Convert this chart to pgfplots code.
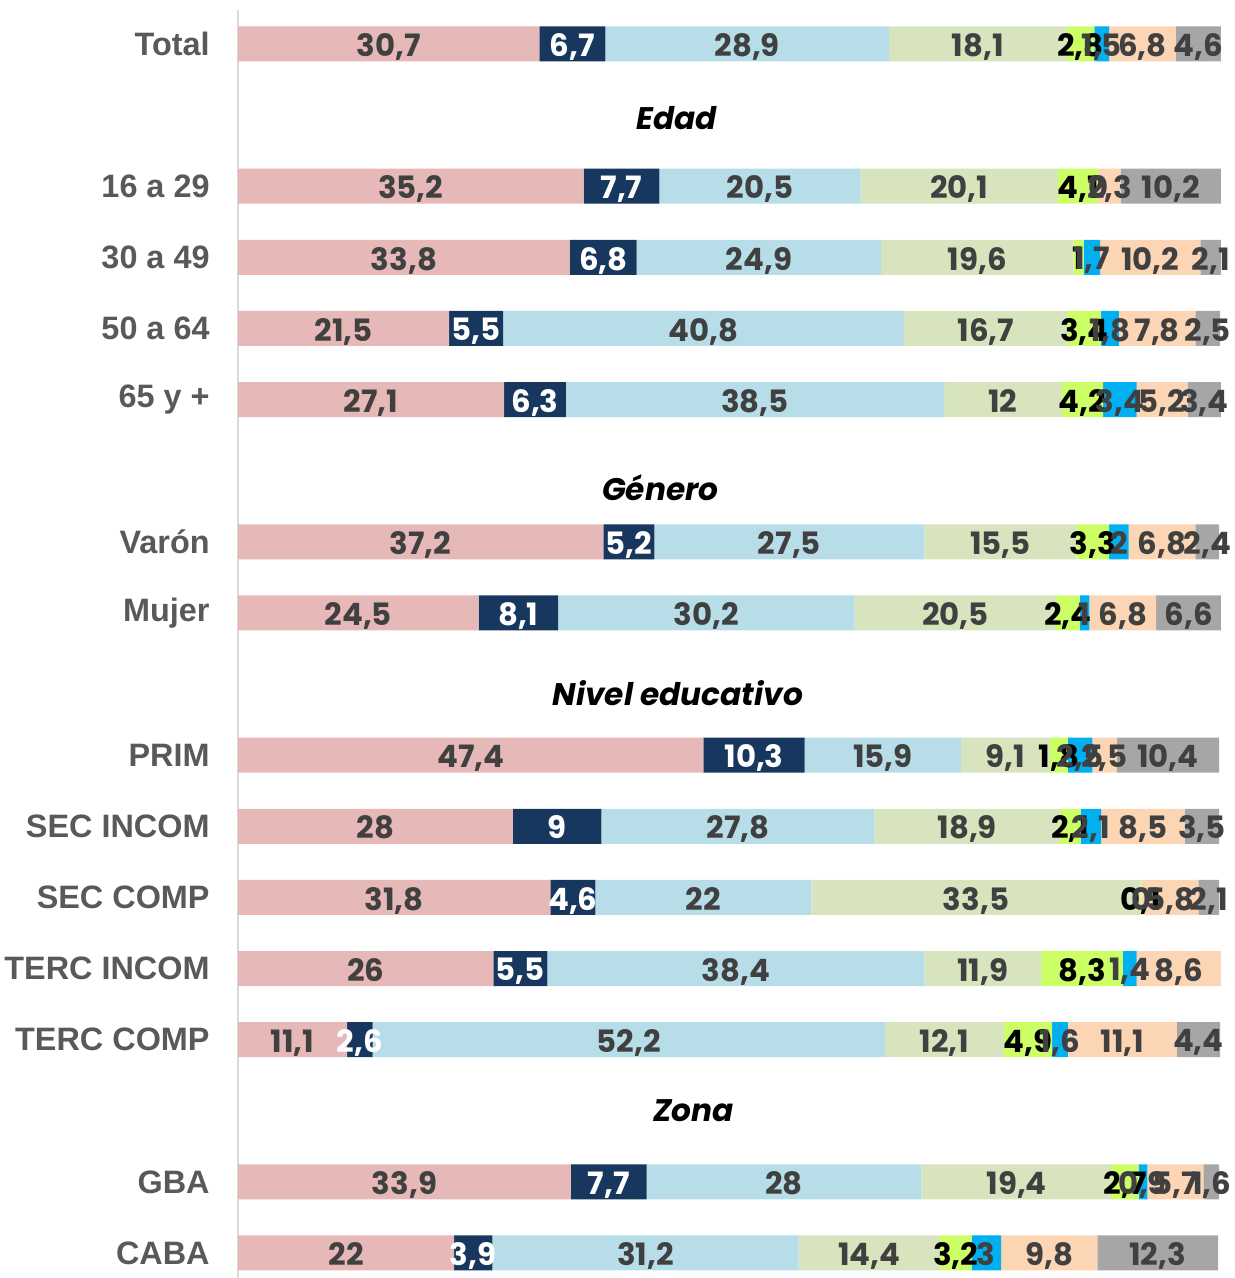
\documentclass[border=0pt]{standalone}
\usepackage{pgfplots}
\pgfplotsset{compat=1.18}
\usepackage{pgfplotstable}
\usepackage{fontspec}
\setmainfont{Liberation Sans}
\newfontfamily\lbl{Poppins}
\definecolor{cPink}{HTML}{E6B9B8}
\definecolor{cNavy}{HTML}{17375E}
\definecolor{cLBlue}{HTML}{B7DEE8}
\definecolor{cLGreen}{HTML}{D7E4BD}
\definecolor{cLime}{HTML}{CCFF66}
\definecolor{cCyan}{HTML}{00B0F0}
\definecolor{cPeach}{HTML}{FCD5B5}
\definecolor{cGray}{HTML}{A6A6A6}
\definecolor{cTxt}{HTML}{404040}
\definecolor{cCat}{HTML}{595959}
\definecolor{cAxis}{HTML}{D9D9D9}

\pgfplotstableread{
y  v1   v2   v3   v4   v5  v6  v7   v8   l1   l2   l3   l4   l5  l6  l7   l8
0  30.7 6.7  28.9 18.1 2.8 1.5 6.8  4.6  30,7 6,7  28,9 18,1 2,8 1,5 6,8  4,6
2  35.2 7.7  20.5 20.1 4.1 0   2.3  10.2 35,2 7,7  20,5 20,1 4,1 0   2,3  10,2
3  33.8 6.8  24.9 19.6 1   1.7 10.2 2.1  33,8 6,8  24,9 19,6 1   1,7 10,2 2,1
4  21.5 5.5  40.8 16.7 3.4 1.8 7.8  2.5  21,5 5,5  40,8 16,7 3,4 1,8 7,8  2,5
5  27.1 6.3  38.5 12   4.2 3.4 5.2  3.4  27,1 6,3  38,5 12   4,2 3,4 5,2  3,4
7  37.2 5.2  27.5 15.5 3.3 2   6.8  2.4  37,2 5,2  27,5 15,5 3,3 2   6,8  2,4
8  24.5 8.1  30.2 20.5 2.4 1   6.8  6.6  24,5 8,1  30,2 20,5 2,4 1   6,8  6,6
10 47.4 10.3 15.9 9.1  1.8 2.5 2.5  10.4 47,4 10,3 15,9 9,1  1,8 2,5 2,5  10,4
11 28   9    27.8 18.9 2.1 2.1 8.5  3.5  28   9    27,8 18,9 2,1 2,1 8,5  3,5
12 31.8 4.6  22   33.5 0.1 0   5.8  2.1  31,8 4,6  22   33,5 0,1 0   5,8  2,1
13 26   5.5  38.4 11.9 8.3 1.4 8.6  0    26   5,5  38,4 11,9 8,3 1,4 8,6  {}
14 11.1 2.6  52.2 12.1 4.9 1.6 11.1 4.4  11,1 2,6  52,2 12,1 4,9 1,6 11,1 4,4
16 33.9 7.7  28   19.4 2.7 0.9 5.7  1.6  33,9 7,7  28   19,4 2,7 0,9 5,7  1,6
17 22   3.9  31.2 14.4 3.2 3   9.8  12.3 22   3,9  31,2 14,4 3,2 3   9,8  12,3
}\datatable

\pgfplotsset{
  base/.style={scale only axis, width=491pt, height=634pt,
    xmin=0, xmax=100, ymin=-0.478, ymax=17.352, y dir=reverse,
    xtick=\empty, clip=false},
  bars/.style={fill=#1, draw=none},
  lab/.style={only marks, mark=none, nodes near coords,
    point meta=explicit symbolic, nodes near coords align=center,
    every node near coord/.append style={anchor=center, text depth=0pt, yshift=-0.6pt,
      font=\lbl\bfseries\fontsize{15.4}{16}\selectfont, text=#1, inner sep=0pt}},
}

\begin{document}
\begin{tikzpicture}
\begin{axis}[base, xbar stacked, bar width=17.5pt,
  axis x line=none, axis y line*=left,
  y axis line style={draw=cAxis, line width=1pt},
  ytick={0,2,3,4,5,7,8,10,11,12,13,14,16,17},
  yticklabels={Total,16 a 29,30 a 49,50 a 64,65 y +,Varón,Mujer,PRIM,SEC INCOM,SEC COMP,TERC INCOM,TERC COMP,GBA,CABA},
  ytick style={draw=none},
  y tick label style={font=\bfseries\fontsize{16.2}{17}\selectfont, text=cCat, inner sep=0pt, xshift=-14pt},
]
\addplot[bars=cPink] table[x=v1,y=y]{\datatable};
\addplot[bars=cNavy] table[x=v2,y=y]{\datatable};
\addplot[bars=cLBlue] table[x=v3,y=y]{\datatable};
\addplot[bars=cLGreen] table[x=v4,y=y]{\datatable};
\addplot[bars=cLime] table[x=v5,y=y]{\datatable};
\addplot[bars=cCyan] table[x=v6,y=y]{\datatable};
\addplot[bars=cPeach] table[x=v7,y=y]{\datatable};
\addplot[bars=cGray] table[x=v8,y=y]{\datatable};
\node[font=\lbl\bfseries\itshape\fontsize{15.6}{16}\selectfont] at (axis cs:44.7,1.04) {Edad};
\node[font=\lbl\bfseries\itshape\fontsize{15.6}{16}\selectfont] at (axis cs:43.0,6.245) {Género};
\node[font=\lbl\bfseries\itshape\fontsize{15.6}{16}\selectfont] at (axis cs:44.8,9.13) {Nivel educativo};
\node[font=\lbl\bfseries\itshape\fontsize{15.6}{16}\selectfont] at (axis cs:46.4,15.0) {Zona};
\end{axis}
\begin{axis}[base, hide axis]
\addplot[lab=cTxt] table[x expr={\thisrow{v1}/2},y=y,meta=l1]{\datatable};
\addplot[lab=white] table[x expr={\thisrow{v1}+\thisrow{v2}/2},y=y,meta=l2]{\datatable};
\addplot[lab=cTxt] table[x expr={\thisrow{v1}+\thisrow{v2}+\thisrow{v3}/2},y=y,meta=l3]{\datatable};
\addplot[lab=cTxt] table[x expr={\thisrow{v1}+\thisrow{v2}+\thisrow{v3}+\thisrow{v4}/2},y=y,meta=l4]{\datatable};
\addplot[lab=black] table[x expr={\thisrow{v1}+\thisrow{v2}+\thisrow{v3}+\thisrow{v4}+\thisrow{v5}/2},y=y,meta=l5]{\datatable};
\addplot[lab=cTxt] table[x expr={\thisrow{v1}+\thisrow{v2}+\thisrow{v3}+\thisrow{v4}+\thisrow{v5}+\thisrow{v6}/2},y=y,meta=l6]{\datatable};
\addplot[lab=cTxt] table[x expr={\thisrow{v1}+\thisrow{v2}+\thisrow{v3}+\thisrow{v4}+\thisrow{v5}+\thisrow{v6}+\thisrow{v7}/2},y=y,meta=l7]{\datatable};
\addplot[lab=cTxt] table[x expr={\thisrow{v1}+\thisrow{v2}+\thisrow{v3}+\thisrow{v4}+\thisrow{v5}+\thisrow{v6}+\thisrow{v7}+\thisrow{v8}/2},y=y,meta=l8]{\datatable};
\end{axis}
\pgfresetboundingbox
\path[use as bounding box] (-119pt,0) rectangle (498.5pt,639pt);
\end{tikzpicture}
\end{document}
